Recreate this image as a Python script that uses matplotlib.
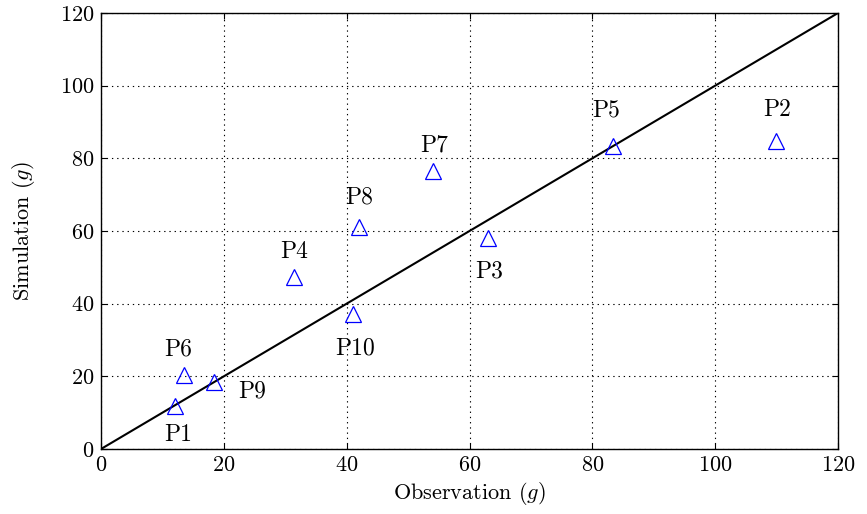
import matplotlib
matplotlib.use("Agg")
import matplotlib.pyplot as plt

plt.rcParams['font.family'] = ['cmr10', 'DejaVu Serif']
plt.rcParams['mathtext.fontset'] = 'cm'
plt.rcParams['axes.formatter.use_mathtext'] = True

labels = ["P1", "P2", "P3", "P4", "P5", "P6", "P7", "P8", "P9", "P10"]
observation = [12.0, 109.9, 63.0, 31.4, 83.4, 13.5, 54.1, 42.0, 18.4, 41.0]
simulation = [11.8, 84.8, 58.1, 47.3, 83.4, 20.4, 76.5, 61.1, 18.4, 37.2]
xticks = [0, 20, 40, 60, 80, 100, 120]
yticks = [0, 20, 40, 60, 80, 100, 120]

# label offsets in pixels (dx, dy) relative to the marker
offsets = {"P1": (3, -29), "P2": (1, 31), "P3": (1, -34), "P4": (0, 25),
           "P5": (-7, 36), "P6": (-6, 25), "P7": (1, 26), "P8": (0, 30),
           "P9": (38, -9), "P10": (2, -35)}

fig = plt.figure(figsize=(8.67, 5.14), dpi=100)
ax = fig.add_axes([101/867, 1-449/514, 737/867, 436/514])

ax.plot([0, 120], [0, 120], color='black', lw=1.5, zorder=2)
ax.plot(observation, simulation, linestyle='none', marker='^', markersize=12,
        markerfacecolor='none', markeredgecolor='blue', markeredgewidth=0.9, zorder=3)

for lab, x, y in zip(labels, observation, simulation):
    dx, dy = offsets[lab]
    ax.annotate(lab, (x, y), xytext=(dx*0.72, dy*0.72), textcoords='offset points',
                ha='center', va='center', fontsize=17)

ax.set_xlim(0, 120)
ax.set_ylim(0, 120)
ax.set_xticks(xticks)
ax.set_yticks(yticks)
ax.tick_params(direction='in', length=4, labelsize=16, top=True, right=True, pad=5)
ax.grid(True, color='black', linestyle=(0, (1.2, 3.5)), linewidth=0.8)
for s in ax.spines.values():
    s.set_linewidth(1.0)

ax.set_xlabel(r"Observation ($g$)", fontsize=16, labelpad=3)
ax.set_ylabel(r"Simulation ($g$)", fontsize=16, labelpad=16)

fig.savefig("out.png", dpi=100)
